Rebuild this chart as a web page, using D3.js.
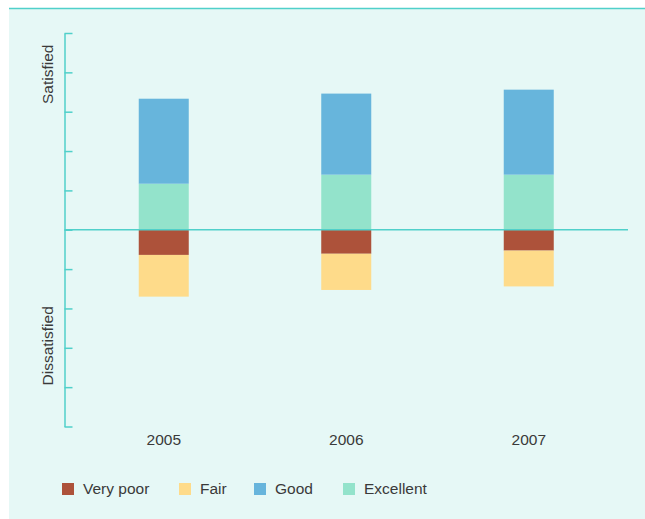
<!DOCTYPE html>
<html><head><meta charset="utf-8">
<script src="https://cdn.jsdelivr.net/npm/d3@7"></script>
<style>html,body{margin:0;padding:0;background:#fff;}svg{display:block;}</style>
</head><body>
<svg id="c" width="645" height="519"></svg>
<script>
const years = ["2005", "2006", "2007"];
const series = ["Very poor", "Fair", "Good", "Excellent"];
const colors = ["#AD523A", "#FEDB8A", "#67B5DC", "#93E3CB"];
// positive side (satisfied)
const excellent = [1.17, 1.40, 1.40];
const good = [2.16, 2.06, 2.16];
// negative side (dissatisfied)
const veryPoor = [0.64, 0.61, 0.53];
const fair = [1.06, 0.92, 0.91];
const yTicks = [-5, -4, -3, -2, -1, 0, 1, 2, 3, 4, 5];

const svg = d3.select("#c");
const teal = "#50D0CA";
const font = "'Liberation Sans', Arial, sans-serif";
const textCol = "#3a3a3a";

svg.append("rect").attr("x", 9).attr("y", 9).attr("width", 636).attr("height", 510).attr("fill", "#E6F8F6");
svg.append("line").attr("x1", 9).attr("x2", 645).attr("y1", 8.5).attr("y2", 8.5).attr("stroke", teal).attr("stroke-width", 1.5);

const y = d3.scaleLinear().domain([-5, 5]).range([426.5, 33]);
const x = d3.scaleBand().domain(years).range([72.5, 620]).paddingInner(0.726).paddingOuter(0.363);

// y axis
const yAxis = d3.axisRight(y).tickValues(yTicks).tickSize(8).tickFormat("").tickSizeOuter(0);
const gy = svg.append("g").attr("transform", "translate(64.5,0)").call(yAxis);
gy.selectAll("path,line").attr("stroke", teal).attr("stroke-width", 1.5);

// bars
const stacks = years.map((yr, i) => ({
  yr,
  segs: [
    {s: 3, y0: 0, y1: excellent[i]},
    {s: 2, y0: excellent[i], y1: excellent[i] + good[i]},
    {s: 0, y0: 0, y1: -veryPoor[i]},
    {s: 1, y0: -veryPoor[i], y1: -veryPoor[i] - fair[i]}
  ]
}));
const gb = svg.append("g");
stacks.forEach(st => {
  gb.selectAll(null).data(st.segs).enter().append("rect")
    .attr("x", x(st.yr)).attr("width", x.bandwidth())
    .attr("y", d => y(Math.max(d.y0, d.y1)))
    .attr("height", d => Math.abs(y(d.y0) - y(d.y1)))
    .attr("fill", d => colors[d.s]);
});

// zero line
svg.append("line").attr("x1", 64.5).attr("x2", 628).attr("y1", y(0)).attr("y2", y(0))
  .attr("stroke", teal).attr("stroke-width", 1.5);

// x labels
const xAxis = d3.axisBottom(x).tickSize(0).tickPadding(0);
const gx = svg.append("g").attr("transform", "translate(0,434)").call(xAxis);
gx.select(".domain").remove();
gx.selectAll("text").attr("font-family", font).attr("font-size", 15.5).attr("fill", textCol).attr("dy", "0.71em");

// side labels
svg.append("text").attr("transform", `translate(53,${y(3.95)}) rotate(-90)`).attr("text-anchor", "middle")
  .attr("font-family", font).attr("font-size", 15.5).attr("fill", textCol).text("Satisfied");
svg.append("text").attr("transform", `translate(53,${y(-2.95)}) rotate(-90)`).attr("text-anchor", "middle")
  .attr("font-family", font).attr("font-size", 15.5).attr("fill", textCol).text("Dissatisfied");

// legend
const legX = [62, 179, 254, 343];
const lg = svg.append("g").selectAll("g").data(series).enter().append("g")
  .attr("transform", (d, i) => `translate(${legX[i]},483)`);
lg.append("rect").attr("width", 12).attr("height", 12).attr("fill", (d, i) => colors[i]);
lg.append("text").attr("x", 21).attr("y", 6).attr("dy", "0.35em").attr("font-family", font)
  .attr("font-size", 15.5).attr("fill", textCol).text(d => d);
</script>
</body></html>
